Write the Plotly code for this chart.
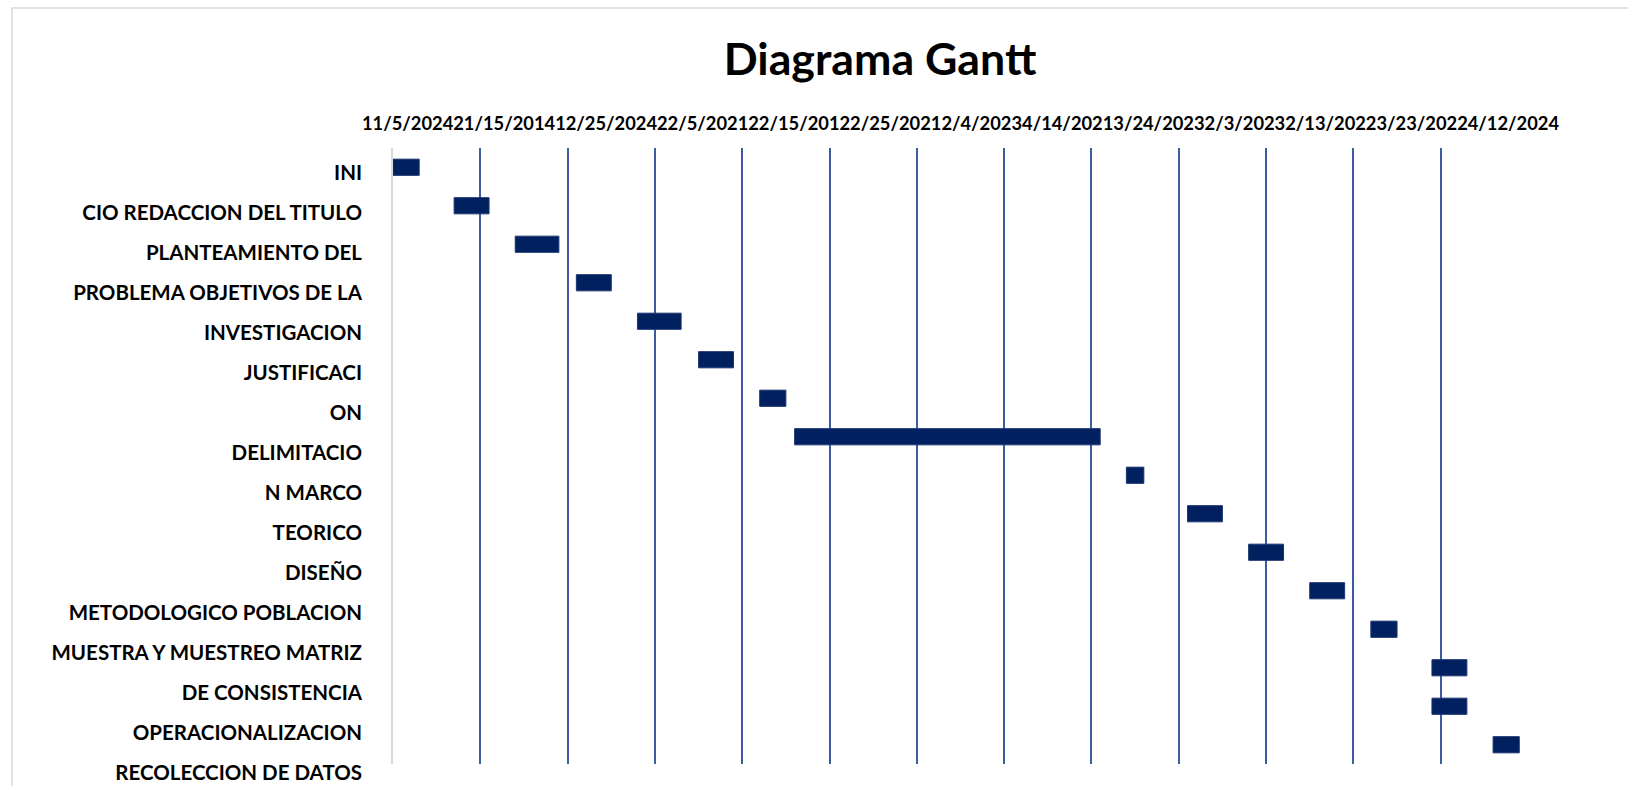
import plotly.graph_objects as go

# ---------------- data ----------------
tasks = [
    "INI",
    "CIO REDACCION DEL TITULO",
    "PLANTEAMIENTO DEL",
    "PROBLEMA OBJETIVOS DE LA",
    "INVESTIGACION",
    "JUSTIFICACI",
    "ON",
    "DELIMITACIO",
    "N MARCO",
    "TEORICO",
    "DISEÑO",
    "METODOLOGICO POBLACION",
    "MUESTRA Y MUESTREO MATRIZ",
    "DE CONSISTENCIA",
    "OPERACIONALIZACION",
    "RECOLECCION DE DATOS",
]
# start offset (days from axis start) and duration (days) of each bar
start_day = [0, 7, 14, 21, 28, 35, 42, 46, 84, 91, 98, 105, 112, 119, 119, 126]
duration_day = [3, 4, 5, 4, 5, 4, 3, 35, 2, 4, 4, 4, 3, 4, 4, 3]

# date labels of the top axis, as they appear (packed together) in the chart
date_labels = ["11/5/2024", "21/15/2014", "12/25/2024", "22/5/2021", "22/15/2012",
               "2/25/2021", "2/4/2023", "4/14/2021", "3/24/2023", "2/3/2023",
               "2/13/2022", "3/23/2022", "4/12/2024"]
grid_days = [10, 20, 30, 40, 50, 60, 70, 80, 90, 100, 110, 120]
axis_min, axis_max = 0, 130

# ---------------- figure ----------------
W, H = 1628, 786
L, R, T, B = 393, 100, 148, 0
plot_w = W - L - R
plot_h = H - T - B
bar_bottom_px = 764  # bottom of bar plot area
y_dom0 = (H - bar_bottom_px) / plot_h

n = len(tasks)
label_step = 40.0  # px between category labels
lab_top = -(173 - T) / label_step
lab_bot = lab_top + plot_h / label_step

fig = go.Figure()
fig.add_trace(go.Bar(
    y=tasks, x=duration_day, base=start_day, orientation="h",
    marker=dict(color="#002060", line=dict(color="#1C3570", width=1)),
    width=0.42, xaxis="x", yaxis="y", showlegend=False, hoverinfo="skip",
))
fig.add_trace(go.Scatter(
    y=tasks, x=[axis_min] * n, mode="markers", marker=dict(opacity=0),
    xaxis="x2", yaxis="y2", showlegend=False, hoverinfo="skip",
))

font_family = "Lato"
fig.update_layout(
    template="none",
    width=W, height=H,
    margin=dict(l=L, r=R, t=T, b=B, pad=0),
    paper_bgcolor="white",
    plot_bgcolor="rgba(0,0,0,0)",
    title=dict(
        text="Diagrama Gantt",
        x=880 / W, xanchor="center", xref="container",
        y=1 - 59 / H, yanchor="middle", yref="container",
        font=dict(family=font_family, size=44.7, color="black", weight="bold"),
    ),
    xaxis=dict(
        domain=[0, 1], anchor="y", range=[axis_min, axis_max],
        tickmode="array", tickvals=grid_days, showticklabels=False,
        showgrid=True, gridcolor="#3C5DA5", gridwidth=1.6,
        zeroline=False, showline=False, ticks="", automargin=False,
    ),
    yaxis=dict(
        domain=[y_dom0, 1], anchor="x", type="category",
        categoryorder="array", categoryarray=tasks,
        range=[n - 0.5, -0.5], showticklabels=False,
        showline=True, linecolor="#D9D9D9", linewidth=2,
        showgrid=False, zeroline=False, ticks="", automargin=False,
    ),
    xaxis2=dict(
        domain=[0, 1], anchor="y2", side="top", range=[axis_min, axis_max],
        tickmode="array", tickvals=[(axis_min + axis_max) / 2],
        ticktext=["".join(date_labels)],
        tickfont=dict(family=font_family, size=18.3, color="black", weight="bold"),
        showgrid=False, zeroline=False, showline=False, ticks="",
        ticklabelstandoff=13, automargin=False,
    ),
    yaxis2=dict(
        domain=[0, 1], anchor="x2", type="category",
        categoryorder="array", categoryarray=tasks,
        range=[lab_bot, lab_top],
        tickmode="array", tickvals=tasks, ticktext=tasks,
        tickfont=dict(family=font_family, size=20.5, color="black", weight="bold"),
        showgrid=False, zeroline=False, showline=False, ticks="",
        ticklabelstandoff=30, automargin=False,
    ),
    shapes=[dict(
        type="rect", xref="paper", yref="paper",
        x0=(12 - L) / plot_w, x1=(W + 20 - L) / plot_w,
        y0=(H - 820) / plot_h, y1=(H - 8) / plot_h,
        line=dict(color="#D9D9D9", width=1.5), fillcolor="rgba(0,0,0,0)",
        layer="below",
    )],
)

fig.write_html(
    "out.html",
    config={"displayModeBar": False},
    post_script="document.body.style.margin='0px';document.body.style.overflow='hidden';",
)
